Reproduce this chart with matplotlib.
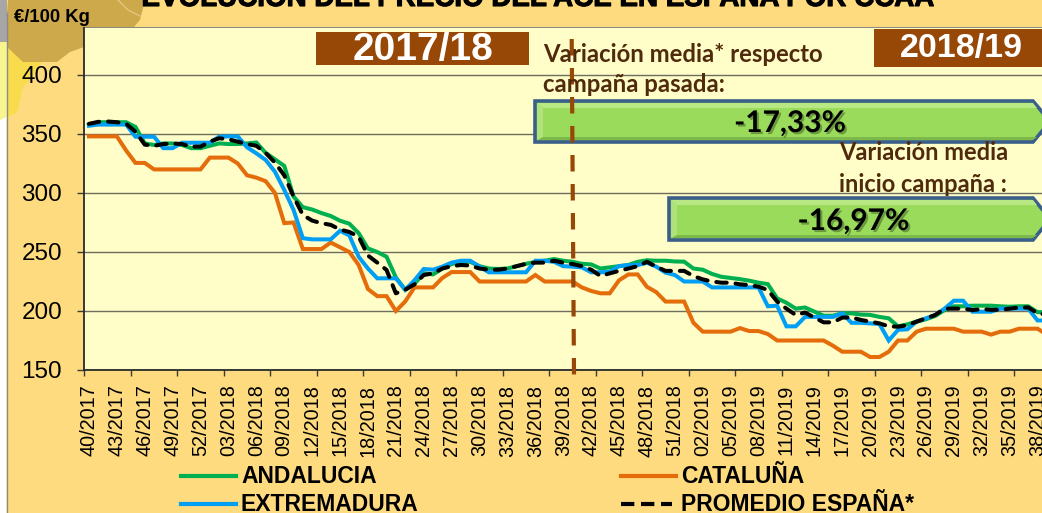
import numpy as np
import matplotlib.pyplot as plt
import matplotlib.patheffects as pe
from matplotlib.patches import Polygon, Rectangle
from matplotlib.lines import Line2D

plt.rcParams['font.family'] = ['Liberation Sans', 'DejaVu Sans']

# Data
andalucia = [358, 360, 360, 360, 360, 356, 342, 340.7, 342, 342,
             340.7, 338, 338, 340, 342, 341.5, 341.5, 342, 342.8, 334,
             328.5, 323, 297, 288, 286, 283, 280.5, 276.5, 274, 266,
             253, 250, 246, 228.5, 218, 223, 232, 231, 236, 239.8,
             241.7, 241.7, 238, 236, 235.6, 236, 238, 240, 241.7, 242.6,
             244, 242.6, 241.7, 240, 239.5, 236, 237, 238, 239, 241.7,
             243, 242.6, 242.6, 242, 241.8, 236, 235, 231.4, 229, 228,
             227, 225.7, 224, 222.8, 210.7, 207, 202, 203, 199.5, 196,
             196, 198, 198, 197, 196.7, 195, 193.8, 187, 188.7, 191,
             193, 195.8, 200.8, 204, 204, 204.5, 204.5, 204.5, 204, 203.6,
             204, 204, 199, 199]
cataluna = [348, 348, 348, 348, 336, 325.5, 325.5, 320, 320, 320,
            320, 320, 320, 330, 330, 330, 325, 315, 313, 310,
            300, 274.5, 275, 252.5, 252.5, 252.5, 258, 254, 250, 239,
            218.6, 212.6, 212.6, 200, 208, 220, 220, 220, 228, 233,
            233, 233, 225, 225, 225, 225, 225, 225, 230.5, 225,
            225, 225, 225, 220, 217, 215, 215, 226, 231, 231,
            220.5, 216, 208, 208, 208, 190, 182.5, 182.5, 182.5, 182.5,
            185.5, 183, 183, 180.5, 175, 175, 175, 175, 175, 175,
            170.6, 165.5, 165.5, 165.5, 161, 161, 165.5, 175, 175, 182.5,
            185, 185, 185, 185, 182.5, 182.5, 182.5, 180, 182.5, 182.5,
            185, 185, 185, 180]
extremadura = [357, 358, 358, 358, 358, 347.7, 347.7, 347.7, 338, 338,
               342.6, 342.6, 342.6, 342.6, 347.7, 348, 348, 338.7, 333.6, 328,
               318, 302.6, 285.7, 261.7, 260.7, 260.7, 260.7, 268, 264, 246,
               236, 227.7, 227.7, 227.7, 218, 226, 235.6, 235, 237.6, 241,
               242.6, 242.6, 237.6, 232.8, 232.8, 232.8, 232.8, 232.8, 242.6, 242.6,
               241.7, 238, 237.6, 237, 232.8, 232.8, 233.3, 238, 238.9, 238.9,
               240.9, 237.6, 232.5, 230.5, 225, 225, 225, 220, 220, 220,
               220, 220, 220, 204, 204.5, 187, 187, 195, 195, 195,
               195, 198, 190, 190, 189.5, 189, 175, 184, 184.5, 191,
               193.8, 196.6, 202, 208.7, 208.7, 199.4, 199.4, 199.4, 202, 202,
               202, 202, 192, 192]
promedio = [358.6, 360.3, 360.6, 360, 358.6, 352, 341, 340, 341.5, 342,
            341.5, 339.3, 339.3, 343.5, 346.4, 345.5, 343.5, 341.5, 340, 334,
            325.7, 315, 297, 281.4, 276.6, 274.4, 273, 269, 267, 263,
            247, 241, 234.8, 215, 218, 222.6, 230.5, 231.9, 236, 238,
            239, 238.5, 236, 235, 235, 236, 238, 240, 241, 241,
            242.6, 241, 239.8, 238, 235, 229.7, 231.9, 234, 236, 238,
            241.7, 237.6, 234, 234, 234, 229.6, 226.8, 225, 224, 224,
            222.6, 222, 220.6, 217.8, 208, 202, 196.6, 198.7, 194.4, 190.4,
            190.4, 194.4, 194.6, 192.4, 191, 189.5, 187, 186.7, 188, 191,
            193.8, 196.6, 202, 202, 202, 200.8, 201.6, 201, 201, 202,
            203, 203, 198, 197]
week_labels = ['40/2017', '43/2017', '46/2017', '49/2017', '52/2017', '03/2018', '06/2018',
               '09/2018', '12/2018', '15/2018', '18/2018', '21/2018', '24/2018', '27/2018',
               '30/2018', '33/2018', '36/2018', '39/2018', '42/2018', '45/2018', '48/2018',
               '51/2018', '02/2019', '05/2019', '08/2019', '11/2019', '14/2019', '17/2019',
               '20/2019', '23/2019', '26/2019', '29/2019', '32/2019', '35/2019', '38/2019']
y_ticks = [150, 200, 250, 300, 350, 400]

W, H = 1042, 513
GREEN, ORANGE, BLUE, BROWN = '#00B050', '#E46C0A', '#009FF5', '#974706'
TEXT_BROWN = '#4F2A0C'

fig = plt.figure(figsize=(W / 100, H / 100), dpi=100, facecolor='#FFDB80')

# Background decoration, in pixel coordinates
bg = fig.add_axes([0, 0, 1, 1], zorder=0)
bg.set_xlim(0, W)
bg.set_ylim(H, 0)
bg.axis('off')
bg.add_patch(Rectangle((0, 0), 6.5, 42, fc='#A6A6A6', ec='none'))
bg.add_patch(Rectangle((0, 42), 6.5, 78, fc='#F8F590', ec='none'))
bg.add_patch(Polygon([(0, 120), (6.5, 117), (6.5, 513), (0, 513)], fc='white', ec='none'))
bg.add_patch(Polygon([(7, 47), (23, 62), (42, 62), (30, 80), (23, 87), (17, 113), (7, 117)],
                     fc='#F9DC4E', ec='none'))
bg.add_patch(Polygon([(8, 0), (145, 0), (140, 20), (133, 28), (84, 28), (84, 47), (70, 52),
                      (57, 62), (23, 62), (7, 47), (7, 13)], fc='#CDA94C', ec='none'))
bg.add_line(Line2D([118, 128, 140], [0, 10, 16], color='#E3C67A', lw=1))
bg.add_line(Line2D([6.5, 6.5], [13, 513], color='#8C8C80', lw=1))
bg.add_line(Line2D([84, W], [27.5, 27.5], color='#8C8C80', lw=1.5))
bg.text(537.5, 6, 'EVOLUCIÓN DEL PRECIO DEL ACE EN ESPAÑA POR CCAA', fontsize=20,
        fontweight='bold', ha='center', va='baseline', color='black',
        path_effects=[pe.withStroke(linewidth=0.8, foreground='black')])
bg.text(14, 18, '€/100 Kg', fontsize=13.3, fontweight='bold', va='center', color='black')

# Main chart
ax = fig.add_axes([84.3 / W, 1 - 370 / H, (W - 84.3) / W, (370 - 28) / H], zorder=1)
ax.set_facecolor('#FFFDC8')
x = np.arange(len(promedio))
ax.plot(x, andalucia, color=GREEN, lw=2.9, solid_joinstyle='miter')
ax.plot(x, cataluna, color=ORANGE, lw=2.9, solid_joinstyle='miter')
ax.plot(x, extremadura, color=BLUE, lw=2.9, solid_joinstyle='miter')
ax.plot(x, promedio, color='black', lw=2.9, dashes=(2.6, 2.2), dash_capstyle='round')

ax.set_xlim(-0.5, 102.48)
ax.set_ylim(150, 150 + 342 / 1.18)
ax.set_yticks(y_ticks)
ax.tick_params(axis='y', labelsize=17.5, length=5, width=1, color='#3C3C34', pad=11)
ax.grid(axis='y', color='#6E6E5E', lw=1)
ax.set_axisbelow(True)
ax.set_xticks(np.arange(-0.5, 103, 5))
ax.set_xticklabels([])
ax.tick_params(axis='x', which='major', length=4.3, width=1, color='#3C3C34')
ax.set_xticks(np.arange(0, 3 * len(week_labels), 3), minor=True)
ax.set_xticklabels(week_labels, minor=True, rotation=90, fontsize=14.3)
ax.tick_params(axis='x', which='minor', length=0, pad=10.5)
for side in ['top', 'right']:
    ax.spines[side].set_visible(False)
ax.spines['left'].set_linewidth(1.3)
ax.spines['left'].set_color('#2A2A2A')
ax.spines['bottom'].set_linewidth(1.3)
ax.spines['bottom'].set_color('#2A2A2A')

# Overlay: campaign boxes, callouts and legend, in pixel coordinates
ov = fig.add_axes([0, 0, 1, 1], zorder=2)
ov.set_xlim(0, W)
ov.set_ylim(H, 0)
ov.axis('off')
ov.patch.set_alpha(0)

ov.add_line(Line2D([571.7, 574], [39, 375], color=BROWN, lw=3, dashes=(3.96, 3.0)))

ov.add_patch(Rectangle((316, 32), 213, 33, fc=BROWN, ec='none'))
ov.text(423, 50, '2017/18', color='white', fontsize=28, fontweight='bold', ha='center', va='center')
ov.add_patch(Rectangle((874, 29), 168, 38, fc=BROWN, ec='none'))
ov.text(961.5, 48, '2018/19', color='white', fontsize=24.5, fontweight='bold', ha='center', va='center')


def arrow(x0, y0, y1, tip=1050):
    # pentagon bar with a bevelled edge, running off the right side
    mid = (y0 + y1) / 2
    ov.add_patch(Polygon([(x0, y0), (1033, y0), (tip, mid), (1033, y1), (x0, y1)],
                         fc='#9BDB5C', ec='#3A5F8B', lw=2.6, joinstyle='miter'))
    ov.add_patch(Polygon([(x0 + 2, y0 + 2), (1033, y0 + 2), (1037, y0 + 7), (x0 + 8, y0 + 7)],
                         fc='#B7E884', ec='none'))
    ov.add_patch(Polygon([(x0 + 2, y1 - 2), (1033, y1 - 2), (1037, y1 - 5), (x0 + 8, y1 - 5)],
                         fc='#7DB84A', ec='none'))
    ov.add_patch(Polygon([(x0 + 2, y0 + 2), (x0 + 8, y0 + 7), (x0 + 8, y1 - 5), (x0 + 2, y1 - 2)],
                         fc='#B0E27C', ec='none'))


arrow(535, 101, 142)
arrow(669, 198, 240)

shadow = [pe.withSimplePatchShadow(offset=(1.5, -1.5), alpha=0.45, shadow_rgbFace='#2F4F1A')]
ov.text(790, 123, '-17,33%', fontsize=21.5, fontweight='bold', family='Lato', ha='center',
        va='center', color='black', path_effects=shadow)
ov.text(853.5, 221, '-16,97%', fontsize=21.5, fontweight='bold', family='Lato', ha='center',
        va='center', color='black', path_effects=shadow)

ov.text(543, 54, 'Variación media* respecto', fontsize=17.2, fontweight='bold', family='Lato',
        va='center', color=TEXT_BROWN)
ov.text(543, 85, 'campaña pasada:', fontsize=17.2, fontweight='bold', family='Lato',
        va='center', color=TEXT_BROWN)
ov.text(839, 153, 'Variación media', fontsize=17, fontweight='bold', family='Lato',
        va='center', color=TEXT_BROWN)
ov.text(839, 184, 'inicio campaña :', fontsize=17, fontweight='bold', family='Lato',
        va='center', color=TEXT_BROWN)

# Legend
for x0, y0, color, label, dashes, length in [(181, 476, GREEN, 'ANDALUCIA', None, 55),
                                             (621, 476, ORANGE, 'CATALUÑA', None, 55),
                                             (181, 504, BLUE, 'EXTREMADURA', None, 55),
                                             (621, 504, 'black', 'PROMEDIO ESPAÑA*', (3.2, 1.6), 51)]:
    line = Line2D([x0, x0 + length], [y0, y0], color=color, lw=3)
    if dashes:
        line.set_dashes(dashes)
    ov.add_line(line)
    ov.text(x0 + 60, y0 + 0.5, label, fontsize=16.5, fontweight='bold', va='center', color='black')

fig.savefig('out.png', dpi=100, facecolor=fig.get_facecolor())
